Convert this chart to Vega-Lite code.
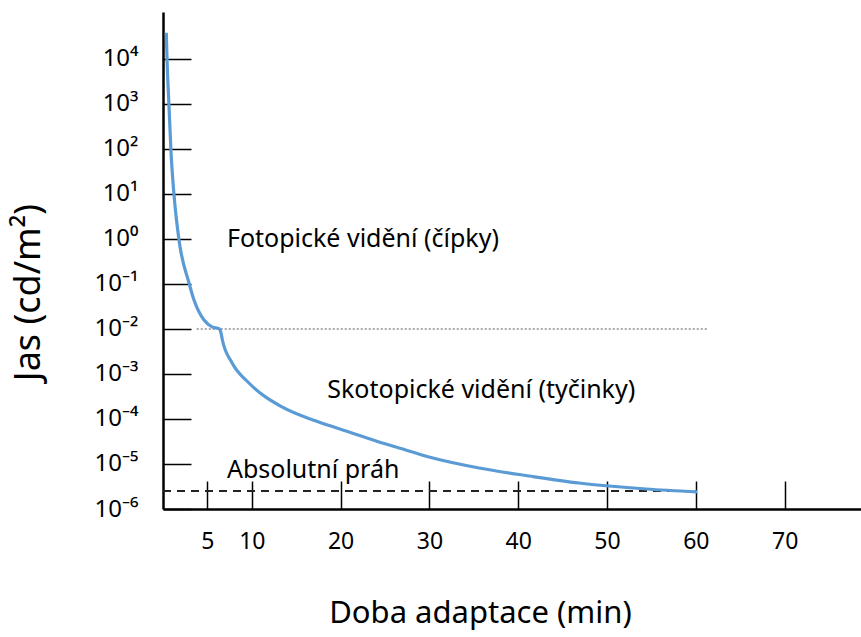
{
  "$schema": "https://vega.github.io/schema/vega-lite/v6.json",
  "width": 698,
  "height": 497,
  "autosize": "none",
  "padding": {"left": 163, "top": 12, "right": 0, "bottom": 128},
  "background": "white",
  "config": {
    "view": {"stroke": null},
    "font": "Noto Sans",
    "text": {"font": "Noto Sans"}
  },
  "datasets": {
    "adaptation": [
      {"t": 0.37, "L": 38000},
      {"t": 0.45, "L": 10500},
      {"t": 0.68, "L": 850},
      {"t": 0.9, "L": 87},
      {"t": 1.24, "L": 9.5},
      {"t": 1.8, "L": 0.95},
      {"t": 2.93, "L": 0.105},
      {"t": 3.49, "L": 0.044},
      {"t": 4.62, "L": 0.0158},
      {"t": 5.52, "L": 0.0111},
      {"t": 6.35, "L": 0.01},
      {"t": 6.55, "L": 0.0079},
      {"t": 6.68, "L": 0.00575},
      {"t": 7.8, "L": 0.00174},
      {"t": 9.68, "L": 0.00063},
      {"t": 13.4, "L": 0.000185},
      {"t": 17.23, "L": 0.00009},
      {"t": 20.95, "L": 0.0000514},
      {"t": 24.32, "L": 0.0000308},
      {"t": 26.58, "L": 0.0000227},
      {"t": 29.95, "L": 0.0000143},
      {"t": 35.59, "L": 0.00000815},
      {"t": 41.22, "L": 0.00000541},
      {"t": 46.85, "L": 0.00000378},
      {"t": 50.23, "L": 0.00000324},
      {"t": 54.39, "L": 0.00000278},
      {"t": 60.14, "L": 0.00000239}
    ],
    "cone_limit": [
      {"t": 3.8, "L": 0.01},
      {"t": 61.3, "L": 0.01}
    ],
    "absolute_threshold": [
      {"t": 0, "L": 0.0000025},
      {"t": 60, "L": 0.0000025}
    ],
    "labels": [
      {"t": 7.2, "L": 1, "text": "Fotopické vidění (čípky)"},
      {"t": 18.5, "L": 0.00044, "text": "Skotopické vidění (tyčinky)"},
      {"t": 7.2, "L": 0.0000074, "text": "Absolutní práh"}
    ]
  },
  "encoding": {
    "x": {
      "field": "t",
      "type": "quantitative",
      "scale": {"domain": [0, 78.6], "nice": false, "zero": false},
      "axis": {
        "title": "Doba adaptace (min)",
        "values": [5, 10, 20, 30, 40, 50, 60, 70],
        "grid": false,
        "domainColor": "black",
        "domainWidth": 2.5,
        "tickColor": "black",
        "tickWidth": 1.5,
        "tickSize": -28,
        "labelFont": "Noto Sans",
        "labelFontSize": 23,
        "labelColor": "black",
        "labelPadding": 49,
        "titleFont": "Noto Sans",
        "titleFontSize": 31,
        "titleFontWeight": "normal",
        "titleColor": "black",
        "titleX": 317,
        "titleY": 104,
        "titleBaseline": "middle"
      }
    },
    "y": {
      "field": "L",
      "type": "quantitative",
      "scale": {"type": "log", "domain": [0.000001, 110000], "nice": false},
      "axis": {
        "title": "Jas (cd/m²)",
        "values": [0.000001, 0.00001, 0.0001, 0.001, 0.01, 0.1, 1, 10, 100, 1000, 10000],
        "labelExpr": "'10' + replace(replace(replace(replace(replace(replace(replace(replace(toString(round(log(datum.value)/LN10)), '-', '⁻'), '0', '⁰'), '1', '¹'), '2', '²'), '3', '³'), '4', '⁴'), '5', '⁵'), '6', '⁶')",
        "grid": false,
        "domainColor": "black",
        "domainWidth": 2.5,
        "tickColor": "black",
        "tickWidth": 1.5,
        "tickSize": -28,
        "labelFont": "Noto Sans",
        "labelFontSize": 24,
        "labelColor": "black",
        "labelPadding": 53,
        "titleFont": "Noto Sans",
        "titleFontSize": 36,
        "titleFontWeight": "normal",
        "titleColor": "black",
        "titleX": -135,
        "titleY": 280,
        "titleAngle": -90,
        "titleBaseline": "middle",
        "titleAlign": "center"
      }
    }
  },
  "layer": [
    {
      "data": {"name": "cone_limit"},
      "mark": {"type": "line", "color": "#AAAAAA", "strokeWidth": 2, "strokeDash": [2, 2]}
    },
    {
      "data": {"name": "absolute_threshold"},
      "mark": {"type": "line", "color": "#222222", "strokeWidth": 2, "strokeDash": [8, 6]}
    },
    {
      "data": {"name": "adaptation"},
      "mark": {"type": "line", "color": "#5B9BD5", "strokeWidth": 3.2, "interpolate": "monotone"}
    },
    {
      "data": {"name": "labels"},
      "mark": {"type": "text", "align": "left", "baseline": "middle", "fontSize": 25, "font": "Noto Sans", "color": "black"},
      "encoding": {"text": {"field": "text"}}
    }
  ]
}
